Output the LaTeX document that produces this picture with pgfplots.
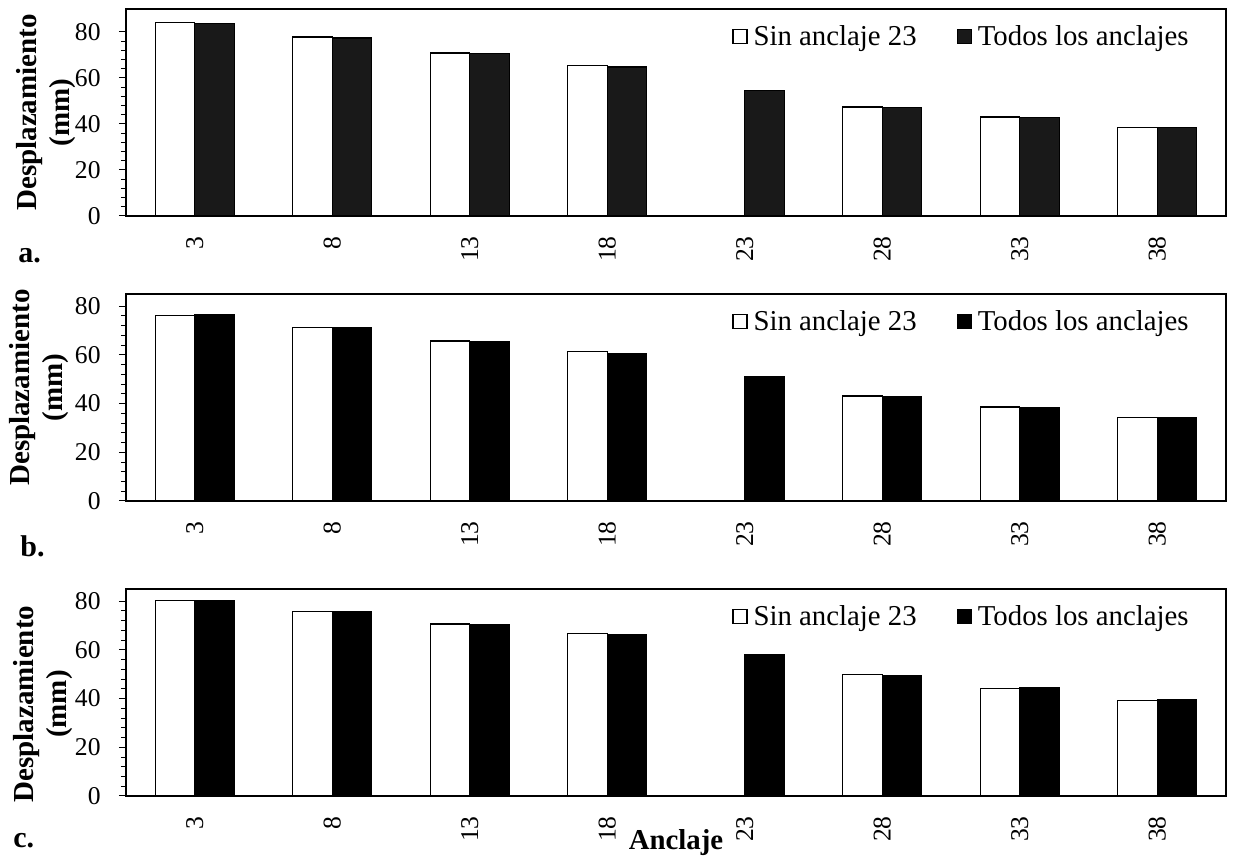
\documentclass[border=0pt]{standalone}
\usepackage{fontspec}
\setmainfont{Liberation Serif}
\usepackage{pgfplots}
\pgfplotsset{compat=1.18}
\definecolor{darkbar}{gray}{0.1}
\newcommand{\tickfont}{\fontsize{12.8}{14}\selectfont}
\pgfplotsset{
  panel/.style={
    scale only axis, width=550pt, height=103.5pt,
    ybar=0pt, bar width=19.75pt,
    xmin=-0.5, xmax=7.5, ymin=0,
    xtick={0,...,7}, xticklabels={3,8,13,18,23,28,33,38},
    ytick={0,20,40,60,80}, minor y tick num=4,
    yticklabel={\pgfmathprintnumber[assume math mode=true]{\tick}},
    xtick style={draw=none},
    ytick pos=left, tick align=outside,
    major tick length=3.5pt, minor tick length=2.5pt,
    axis line style={line width=0.8pt},
    every tick/.style={black, line width=0.5pt},
    /pgf/number format/assume math mode=true,
    xticklabel style={font=\tickfont, rotate=90, anchor=east, inner xsep=6.5pt},
    yticklabel style={font=\tickfont, inner xsep=9pt},
    ylabel={Desplazamiento\\(mm)},
    ylabel style={font=\bfseries\fontsize{14.5}{16.5}\selectfont, align=center, anchor=center},
    legend columns=2,
    legend cell align=left,
    legend style={draw=none, fill=none, at={(axis description cs:1,1)}, anchor=north east,
      xshift=-14pt, yshift=-4pt, font=\fontsize{14.4}{16}\selectfont,
      nodes={inner xsep=1.5pt},
      /tikz/every odd column/.append style={column sep=1.5pt},
      /tikz/every even column/.append style={column sep=18.5pt}},
    legend image code/.code={\draw[#1, line width=0.6pt] (0pt,-3.5pt) rectangle (7pt,3.5pt);},
  },
  wbar/.style={fill=white, draw=black, line width=0.6pt},
}
\begin{document}
\begin{tikzpicture}
\useasboundingbox (0,0) rectangle (616.5pt,-430pt);
% panel a
\begin{axis}[panel, ymax=90, at={(63pt,-4.5pt)}, anchor=north west,
  ylabel style={at={(axis description cs:-0.0723,0.5)}}]
\addplot[wbar] coordinates {(0,84.1) (1,77.8) (2,70.9) (3,65.4) (5,47.4) (6,43.0) (7,38.5)};
\addplot[fill=darkbar, draw=black, line width=0.6pt] coordinates {(0,83.8) (1,77.4) (2,70.6) (3,64.8) (4,54.4) (5,47.2) (6,42.8) (7,38.5)};
\legend{Sin anclaje 23, Todos los anclajes}
\end{axis}
\node[font=\bfseries\fontsize{15}{17}\selectfont, anchor=base west, inner sep=0pt] at (9pt,-131.5pt) {a.};
% panel b
\begin{axis}[panel, ymax=85, at={(63pt,-147pt)}, anchor=north west,
  ylabel style={at={(axis description cs:-0.079,0.548)}}]
\addplot[wbar] coordinates {(0,76.3) (1,71.4) (2,65.7) (3,61.3) (5,43.1) (6,38.6) (7,34.3)};
\addplot[fill=black, draw=black, line width=0.6pt] coordinates {(0,76.4) (1,71.1) (2,65.3) (3,60.6) (4,51.1) (5,42.9) (6,38.4) (7,34.4)};
\legend{Sin anclaje 23, Todos los anclajes}
\end{axis}
\node[font=\bfseries\fontsize{15}{17}\selectfont, anchor=base west, inner sep=0pt] at (10pt,-278.5pt) {b.};
% panel c
\begin{axis}[panel, ymax=85, at={(63pt,-294.5pt)}, anchor=north west,
  ylabel style={at={(axis description cs:-0.075,0.444)}},
  xlabel={Anclaje},
  xlabel style={font=\bfseries\fontsize{14.4}{16}\selectfont, at={(axis description cs:0.5,-0.261)}, anchor=base}]
\addplot[wbar] coordinates {(0,80.3) (1,75.9) (2,70.6) (3,66.6) (5,50.0) (6,44.2) (7,39.3)};
\addplot[fill=black, draw=black, line width=0.6pt] coordinates {(0,80.2) (1,75.6) (2,70.5) (3,66.1) (4,58.2) (5,49.4) (6,44.4) (7,39.4)};
\legend{Sin anclaje 23, Todos los anclajes}
\end{axis}
\node[font=\bfseries\fontsize{15}{17}\selectfont, anchor=base west, inner sep=0pt] at (6.5pt,-424pt) {c.};
\end{tikzpicture}
\end{document}
